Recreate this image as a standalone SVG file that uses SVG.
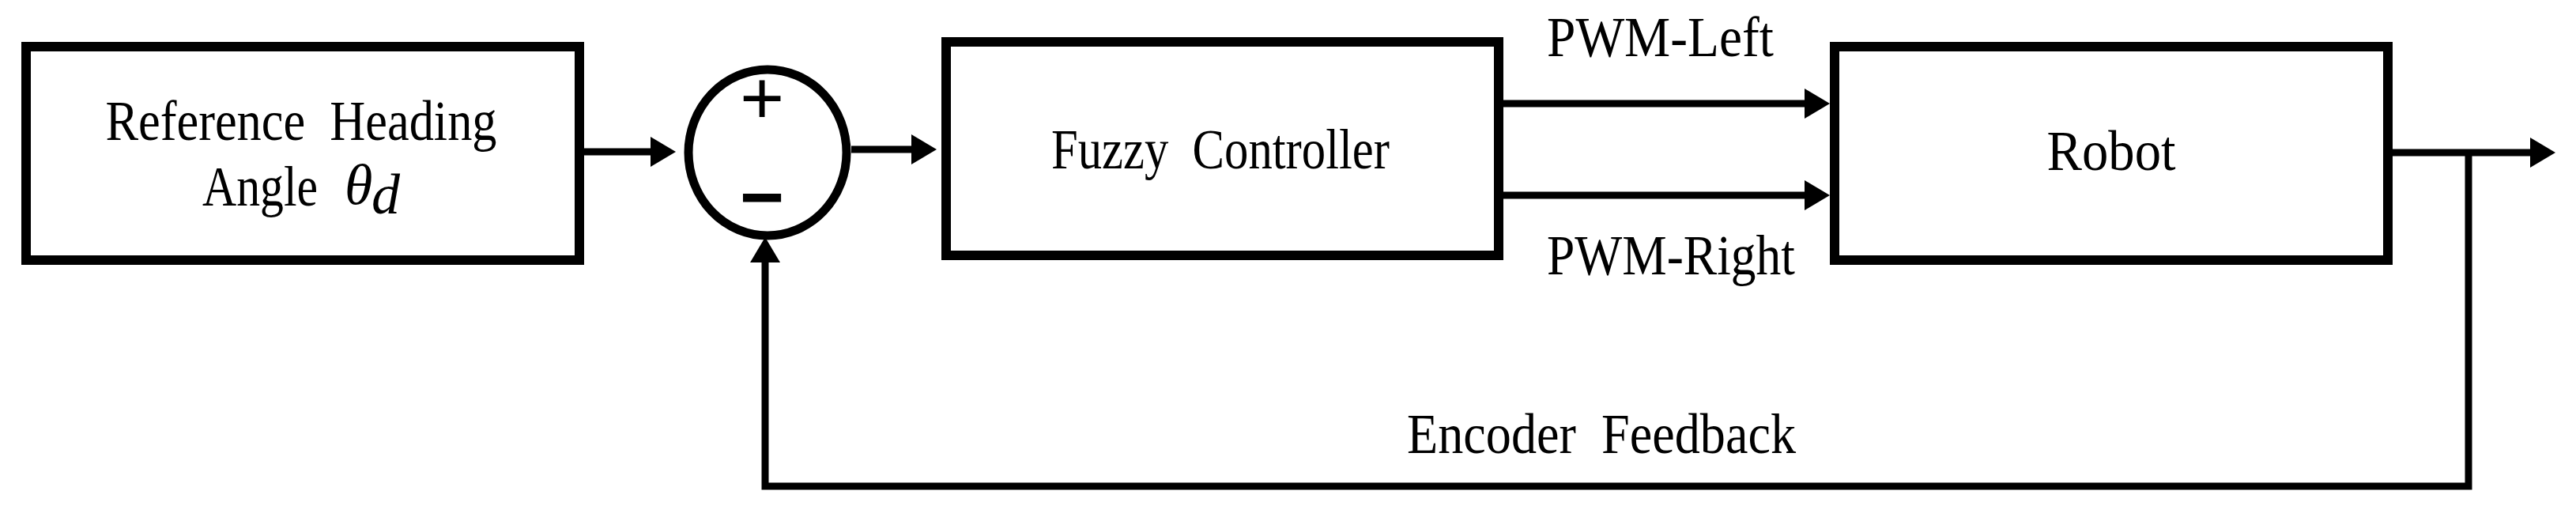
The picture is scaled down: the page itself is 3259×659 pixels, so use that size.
<svg xmlns="http://www.w3.org/2000/svg" width="3259" height="659" viewBox="0 0 3259 659">
<defs>
<style>
.box{fill:#fff;stroke:#000;stroke-width:12}
.sum{fill:#fff;stroke:#000;stroke-width:11}
.lbl{font-family:"Liberation Serif","Times New Roman",serif;font-size:72px;fill:#000;white-space:pre}
.wire{fill:none;stroke:#000;stroke-width:9;marker-end:url(#ah)}
</style>
<marker id="ah" markerUnits="userSpaceOnUse" markerWidth="34" markerHeight="40" refX="12" refY="19" orient="auto">
<path d="M0,0 L32,19 L0,38 z" fill="#000"/>
</marker>
</defs>
<rect width="3259" height="659" fill="#fff"/>
<g id="connectors">
<path class="wire" d="M739,192 H835"/>
<path class="wire" d="M1077,189 H1165"/>
<path class="wire" d="M1902,131 H2295"/>
<path class="wire" d="M1902,247 H2295"/>
<path class="wire" d="M3027,193 H3213"/>
<path class="wire" d="M3123,193 V615 H968 V320"/>
</g>
<g id="ref">
<rect class="box" x="33" y="59" width="700" height="270"/>
<text class="lbl" x="381" y="177" text-anchor="middle" textLength="495" lengthAdjust="spacingAndGlyphs">Reference  Heading</text>
<text class="lbl" x="256" y="260" textLength="146" lengthAdjust="spacingAndGlyphs">Angle</text>
<text class="lbl" x="436" y="258" font-style="italic" font-size="66">θ</text>
<text class="lbl" x="470" y="270" font-style="italic" font-size="46">d</text>
</g>
<g id="sum">
<ellipse class="sum" cx="971" cy="193" rx="100" ry="105"/>
<text x="964" y="156" text-anchor="middle" font-family="Liberation Serif, serif" font-size="96" fill="#000" stroke="#000" stroke-width="2">+</text>
<text x="964" y="282" text-anchor="middle" font-family="Liberation Sans, sans-serif" font-weight="bold" font-size="96" fill="#000">−</text>
</g>
<g id="fuzzy">
<rect class="box" x="1197" y="53" width="699" height="270"/>
<text class="lbl" x="1544" y="213" text-anchor="middle" textLength="428" lengthAdjust="spacingAndGlyphs">Fuzzy  Controller</text>
</g>
<g id="robot">
<rect class="box" x="2321" y="59" width="700" height="270"/>
<text class="lbl" x="2671" y="215" text-anchor="middle" textLength="163" lengthAdjust="spacingAndGlyphs">Robot</text>
</g>
<g id="labels">
<text class="lbl" x="1957" y="71" textLength="287" lengthAdjust="spacingAndGlyphs">PWM-Left</text>
<text class="lbl" x="1957" y="347" textLength="314" lengthAdjust="spacingAndGlyphs">PWM-Right</text>
<text class="lbl" x="1780" y="573" textLength="492" lengthAdjust="spacingAndGlyphs">Encoder  Feedback</text>
</g>
</svg>
